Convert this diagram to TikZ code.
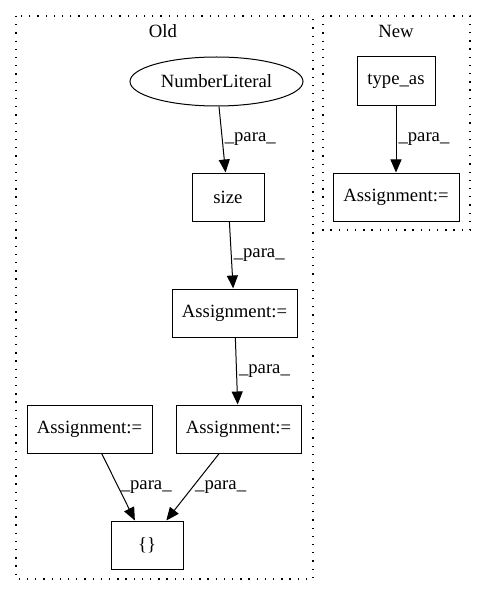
\documentclass[tikz,border=0pt]{standalone}
\usepackage{fontspec}
\setmainfont{Liberation Serif}
\usetikzlibrary{arrows.meta,shapes.geometric}
\tikzset{
  box/.style={draw,line width=1pt,rectangle,minimum height=48pt,inner sep=0pt},
  oval/.style={draw,line width=1pt,ellipse,minimum width=173pt,minimum height=49pt,inner sep=0pt},
  flow/.style={line width=1pt,-{Triangle[length=13pt,width=11pt]}},
  lbl/.style={anchor=west,inner sep=2pt},
  cluster/.style={line width=1.2pt,dash pattern=on 1.3pt off 6.9pt},
}
\begin{document}
\begin{tikzpicture}[x=1pt,y=-1pt,font=\fontsize{18.7}{22}\selectfont]
\useasboundingbox (0,0) rectangle (485,596);
\draw[cluster] (16,16) rectangle (313,579);
\draw[cluster] (323,16) rectangle (470,230);
\node (old) at (163,31) {Old};
\node (new) at (396,31) {New};
\node[oval] (N) at (216.5,81.5) {NumberLiteral};
\node[box,minimum width=72pt] (S) at (228,197) {size};
\node[box,minimum width=125pt] (A1) at (234.5,313) {Assignment:=};
\node[box,minimum width=125pt] (A2) at (238.5,429) {Assignment:=};
\node[box,minimum width=125pt] (A3) at (89.5,429) {Assignment:=};
\node[box,minimum width=72pt] (B) at (147,545) {\{\}};
\node[box,minimum width=78pt,minimum height=49pt] (T) at (396,81.5) {type\_as};
\node[box,minimum width=126pt] (A4) at (396,197) {Assignment:=};
\foreach \a/\b in {N/S,S/A1,A1/A2,A3/B,A2/B,T/A4}
	\draw[flow] (\a) -- node[lbl] (p\a\b) {\_para\_} (\b);
\end{tikzpicture}
\end{document}
